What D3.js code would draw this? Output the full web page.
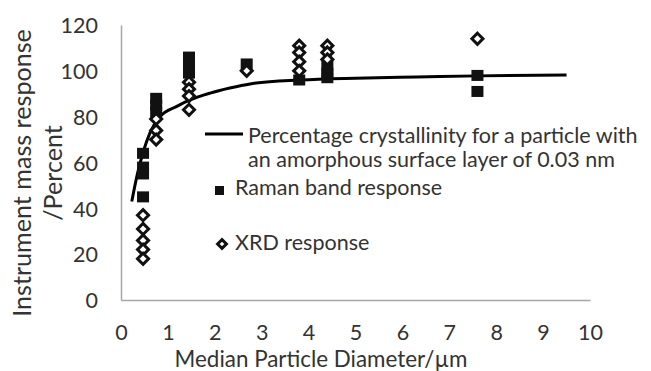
<!doctype html>
<html>
<head>
<meta charset="UTF-8" />
<title>Crystallinity vs particle diameter</title>
<style type="text/css">
body {
	margin: 0;
	background: #fff;
}

svg text {
	font-family: Lato, "Open Sans", sans-serif;
	fill: #333;
}

.axis path {
	stroke: #a6a6a6;
	stroke-width: 1.5px;
}

.axis text {
	font-size: 21.5px;
}

.line {
	fill: none;
	stroke: #000;
	stroke-width: 3px;
}

.raman {
	fill: #111;
}

.xrd {
	fill: #fff;
	stroke: #111;
	stroke-width: 3px;
}
</style>
<script src="https://d3js.org/d3.v7.min.js"></script>
</head>
<body>
<script>
	// values
	var xTicks = [0, 1, 2, 3, 4, 5, 6, 7, 8, 9, 10];
	var yTicks = [0, 20, 40, 60, 80, 100, 120];

	var ramanX = [0.47, 0.47, 0.47, 0.47, 0.75, 0.75, 0.75, 1.45, 1.45, 1.45, 2.68, 3.8, 4.4, 4.4, 4.4, 7.6, 7.6];
	var ramanY = [64, 58, 55, 45, 88, 85, 82, 106, 102, 99, 103, 96, 102, 99, 97, 98, 91];

	var xrdX = [0.47, 0.47, 0.47, 0.47, 0.47, 0.75, 0.75, 0.75, 1.45, 1.45, 1.45, 1.45, 2.68, 3.8, 3.8, 3.8, 3.8, 4.4, 4.4, 4.4, 7.6];
	var xrdY = [37, 31, 26, 22, 18, 79, 74, 70, 95, 92, 89, 83, 100, 111, 108, 104, 100, 111, 108, 105, 114];

	var curveX = [0.23, 0.35, 0.48, 0.62, 0.83, 1.19, 1.47, 1.9, 2.32, 2.75, 3.82, 5, 6.3, 7.6, 9.5];
	var curveY = [43, 55, 65, 73, 80, 84.5, 87.3, 90.3, 92.5, 94.3, 96, 96.8, 97.3, 97.8, 98.2];

	var legendLabels = ["Percentage crystallinity for a particle with", "an amorphous surface layer of 0.03 nm", "Raman band response", "XRD response"];

	var width = 651, height = 371;

	var x = d3.scaleLinear().domain([0, 10]).range([121, 590]);
	var y = d3.scaleLinear().domain([0, 120]).range([300, 25]);

	var svg = d3.select("body").append("svg")
		.attr("width", width)
		.attr("height", height);

	// scale a text's font so that it takes the width seen in the reference
	function fit(sel, w) {
		var cur = sel.node().getComputedTextLength();
		var fs = parseFloat(sel.style("font-size"));
		sel.style("font-size", (fs * w / cur) + "px");
		return fs * w / cur;
	}

	var xAxis = d3.axisBottom(x).tickValues(xTicks).tickSize(0).tickSizeOuter(0);
	var yAxis = d3.axisLeft(y).tickValues(yTicks).tickSize(0).tickSizeOuter(0);

	var gx = svg.append("g")
		.attr("class", "x axis")
		.attr("transform", "translate(0,300)")
		.call(xAxis);
	gx.selectAll("text").attr("dy", null).attr("y", 40).attr("fill", "#333");
	gx.selectAll(".tick line").remove();

	var gy = svg.append("g")
		.attr("class", "y axis")
		.attr("transform", "translate(121,0)")
		.call(yAxis);
	gy.selectAll("text").attr("x", -23).attr("dy", "0.36em").attr("fill", "#333");
	gy.selectAll(".tick line").remove();

	// axis titles
	var xt = svg.append("text")
		.attr("x", 321)
		.attr("y", 367)
		.style("text-anchor", "middle")
		.style("font-size", "22px")
		.text("Median Particle Diameter/µm");
	fit(xt, 293);

	var yt = svg.append("g")
		.attr("transform", "translate(0,173) rotate(-90)");
	var yt1 = yt.append("text")
		.attr("x", 0)
		.attr("y", 31)
		.style("text-anchor", "middle")
		.style("font-size", "23px")
		.text("Instrument mass response");
	var ys = fit(yt1, 288);
	yt.append("text")
		.attr("x", 0)
		.attr("y", 62)
		.style("text-anchor", "middle")
		.style("font-size", ys + "px")
		.text("/Percent");

	// fitted curve
	var curveData = curveX.map(function(d, i) { return {x: d, y: curveY[i]}; });
	var line = d3.line()
		.x(function(d) { return x(d.x); })
		.y(function(d) { return y(d.y); })
		.curve(d3.curveMonotoneX);

	svg.append("path")
		.datum(curveData)
		.attr("class", "line")
		.attr("d", line);

	// Raman squares
	var sq = 12;
	svg.selectAll("rect.raman")
		.data(ramanX.map(function(d, i) { return {x: d, y: ramanY[i]}; }))
		.enter().append("rect")
			.attr("class", "raman")
			.attr("x", function(d) { return x(d.x) - sq / 2; })
			.attr("y", function(d) { return y(d.y) - 5.5; })
			.attr("width", sq)
			.attr("height", 11);

	// XRD diamonds
	var diamond = d3.symbol().type(d3.symbolDiamond2).size(78);
	svg.selectAll("path.xrd")
		.data(xrdX.map(function(d, i) { return {x: d, y: xrdY[i]}; }))
		.enter().append("path")
			.attr("class", "xrd")
			.attr("transform", function(d) { return "translate(" + x(d.x) + "," + y(d.y) + ")"; })
			.attr("d", diamond);

	// legend
	var legend = svg.append("g").attr("class", "legend");

	legend.append("line")
		.attr("x1", 205).attr("x2", 243)
		.attr("y1", 134).attr("y2", 134)
		.attr("stroke", "#000")
		.attr("stroke-width", 3);

	var l1 = legend.append("text")
		.attr("x", 248).attr("y", 143)
		.style("font-size", "21px")
		.text(legendLabels[0]);
	var ls = fit(l1, 390);

	legend.append("text")
		.attr("x", 248).attr("y", 167)
		.style("font-size", ls + "px")
		.text(legendLabels[1]);

	legend.append("rect")
		.attr("class", "raman")
		.attr("x", 215).attr("y", 186)
		.attr("width", 9).attr("height", 9);

	legend.append("text")
		.attr("x", 235).attr("y", 195)
		.style("font-size", ls + "px")
		.text(legendLabels[2]);

	legend.append("path")
		.attr("class", "xrd")
		.attr("transform", "translate(222,244)")
		.attr("d", d3.symbol().type(d3.symbolDiamond2).size(50));

	legend.append("text")
		.attr("x", 235).attr("y", 250)
		.style("font-size", ls + "px")
		.text(legendLabels[3]);
</script>
</body>
</html>
